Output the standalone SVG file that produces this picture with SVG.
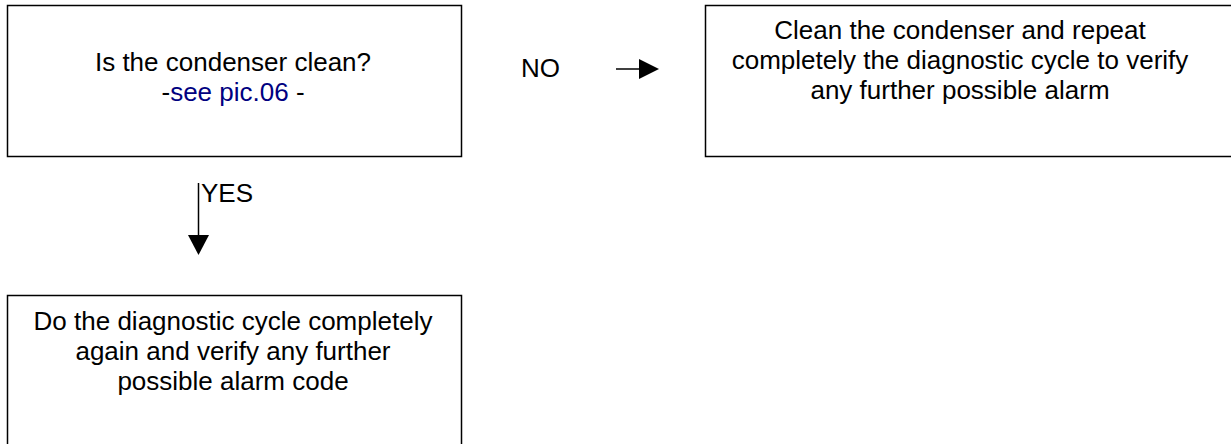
<svg xmlns="http://www.w3.org/2000/svg" width="1231" height="444" viewBox="0 0 1231 444">
<style>
.box{fill:#fff;stroke:#000;stroke-width:1.5}
.t{font-family:"Liberation Sans",Arial,sans-serif;font-size:26px;fill:#000}
.c{text-anchor:middle}
.link{fill:#000080}
.ln{stroke:#000;stroke-width:1.5;fill:none}
</style>
<rect width="1231" height="444" fill="#fff"/>
<g id="node-question">
<rect class="box" x="7.5" y="5.5" width="454" height="151"/>
<text class="t c" x="233" y="71">Is the condenser clean?</text>
<text class="t c" x="233" y="101">-<tspan class="link">see pic.06</tspan> -</text>
</g>
<g id="node-clean">
<rect class="box" x="705.5" y="5.5" width="540" height="151"/>
<text class="t c" x="960" y="39">Clean the condenser and repeat</text>
<text class="t c" x="960" y="69">completely the diagnostic cycle to verify</text>
<text class="t c" x="960" y="99">any further possible alarm</text>
</g>
<g id="node-repeat">
<rect class="box" x="7.5" y="295.5" width="454" height="170"/>
<text class="t c" x="233" y="330">Do the diagnostic cycle completely</text>
<text class="t c" x="233" y="360">again and verify any further</text>
<text class="t c" x="233" y="390">possible alarm code</text>
</g>
<g id="connectors">
<text class="t" x="521" y="77">NO</text>
<line class="ln" x1="616" y1="69" x2="641" y2="69"/>
<polygon points="639,59 659,69 639,79" fill="#000"/>
<text class="t" x="201" y="202">YES</text>
<line class="ln" x1="198.5" y1="183" x2="198.5" y2="237"/>
<polygon points="188,235 209,235 198.5,255" fill="#000"/>
</g>
</svg>
